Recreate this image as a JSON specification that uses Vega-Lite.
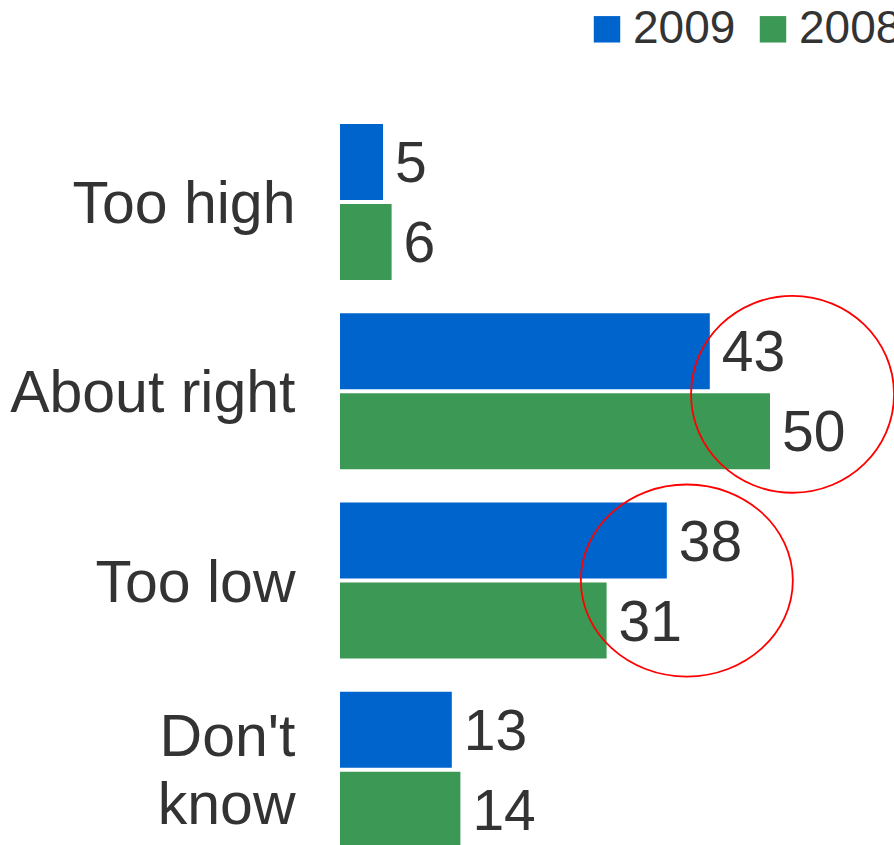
{
  "$schema": "https://vega.github.io/schema/vega-lite/v6.json",
  "autosize": "none",
  "width": 554,
  "height": 737.7,
  "padding": {"left": 340, "top": 107.3, "right": 0, "bottom": 0},
  "background": "white",
  "config": {
    "view": {"stroke": null},
    "font": "Liberation Sans"
  },
  "data": {
    "values": [
      {"cat": "Too high", "year": "2009", "value": 5},
      {"cat": "Too high", "year": "2008", "value": 6},
      {"cat": "About right", "year": "2009", "value": 43},
      {"cat": "About right", "year": "2008", "value": 50},
      {"cat": "Too low", "year": "2009", "value": 38},
      {"cat": "Too low", "year": "2008", "value": 31},
      {"cat": "Don't know", "year": "2009", "value": 13},
      {"cat": "Don't know", "year": "2008", "value": 14}
    ]
  },
  "encoding": {
    "y": {
      "field": "cat",
      "type": "nominal",
      "sort": ["Too high", "About right", "Too low", "Don't know"],
      "scale": {"range": [0, 757.2], "paddingInner": 0.176, "paddingOuter": 0.088},
      "axis": {
        "title": null,
        "domain": false,
        "ticks": false,
        "labelFontSize": 59,
        "labelColor": "#333333",
        "labelPadding": 45,
        "labelLimit": 0,
        "labelLineHeight": 68,
        "labelOffset": {"condition": {"test": "indexof(datum.value, 'know') >= 0", "value": -32}, "value": 3},
        "labelExpr": "indexof(datum.label, 'know') >= 0 ? split(datum.label, ' ') : datum.label"
      }
    },
    "yOffset": {
      "field": "year",
      "type": "nominal",
      "sort": ["2009", "2008"],
      "scale": {"paddingInner": 0.05, "paddingOuter": 0}
    },
    "x": {
      "field": "value",
      "type": "quantitative",
      "scale": {"domain": [0, 64.42], "nice": false, "zero": true},
      "axis": null
    }
  },
  "layer": [
    {
      "mark": {"type": "bar"},
      "encoding": {
        "color": {
          "field": "year",
          "type": "nominal",
          "scale": {"domain": ["2009", "2008"], "range": ["#0064CD", "#3C9855"]},
          "legend": {
            "title": null,
            "orient": "none",
            "legendX": 244,
            "legendY": -101,
            "direction": "horizontal",
            "symbolType": "square",
            "symbolSize": 700,
            "symbolStrokeWidth": 0,
            "labelFontSize": 46,
            "labelColor": "#333333",
            "labelOffset": 3,
            "columnPadding": 14,
            "padding": 0
          }
        }
      }
    },
    {
      "mark": {"type": "text", "align": "left", "baseline": "middle", "dx": 12, "dy": 3, "fontSize": 57, "color": "#333333"},
      "encoding": {"text": {"field": "value", "type": "quantitative"}}
    },
    {
      "data": {"values": [{"cat": "About right", "x": 52.62}]},
      "mark": {
        "type": "point",
        "filled": false,
        "stroke": "#FF0000",
        "strokeWidth": 1.8,
        "opacity": 1,
        "size": 41209,
        "shape": "M 1 0.03 C 1 0.566 0.5523 1.0 0 1.0 C -0.5523 1.0 -1 0.566 -1 0.03 C -1 -0.506 -0.5523 -0.94 0 -0.94 C 0.5523 -0.94 1 -0.506 1 0.03 Z"
      },
      "encoding": {
        "x": {"field": "x", "type": "quantitative"},
        "y": {"field": "cat", "type": "nominal"},
        "yOffset": null
      }
    },
    {
      "data": {"values": [{"cat": "Too low", "x": 40.33}]},
      "mark": {
        "type": "point",
        "filled": false,
        "stroke": "#FF0000",
        "strokeWidth": 1.8,
        "opacity": 1,
        "size": 44944,
        "shape": "M 1 0 C 1 0.5 0.5523 0.906 0 0.906 C -0.5523 0.906 -1 0.5 -1 0 C -1 -0.5 -0.5523 -0.906 0 -0.906 C 0.5523 -0.906 1 -0.5 1 0 Z"
      },
      "encoding": {
        "x": {"field": "x", "type": "quantitative"},
        "y": {"field": "cat", "type": "nominal"},
        "yOffset": null
      }
    }
  ]
}
